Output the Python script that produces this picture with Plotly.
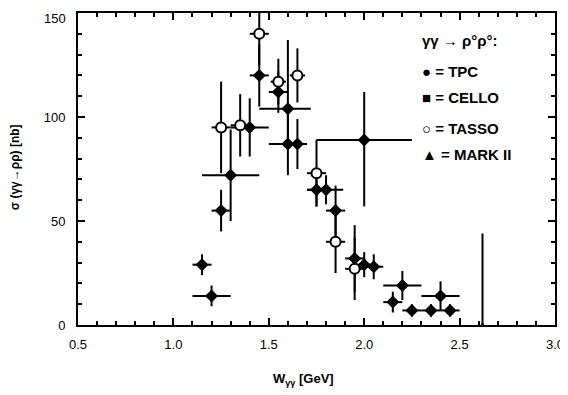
import plotly.graph_objects as go

# ---- data ----
# TPC (filled diamonds)
tpc_x = [1.15, 1.25, 1.45, 1.55, 1.65, 1.75, 1.85, 1.95, 2.00, 2.05, 2.15, 2.25, 2.35, 2.45]
tpc_y = [29, 55, 120, 112, 87, 65, 55, 32, 29, 28, 11, 7, 7, 7]
tpc_xerr = [0.05, 0.05, 0.05, 0.05, 0.05, 0.05, 0.05, 0.05, 0.05, 0.05, 0.05, 0.05, 0.05, 0.05]
tpc_yerr = [5, 10, 15, 10, 12, 8, 12, 16, 6, 6, 5, 3, 3, 3]

# CELLO (filled, wide bins)
cello_x = [1.20, 1.30, 1.40, 1.60, 1.60, 1.80, 2.00, 2.20, 2.40]
cello_y = [14, 72, 95, 104, 87, 65, 89, 19, 14]
cello_xerr_plus = [0.10, 0.15, 0.10, 0.12, 0.10, 0.09, 0.25, 0.10, 0.10]
cello_xerr_minus = [0.10, 0.15, 0.10, 0.15, 0.10, 0.10, 0.25, 0.10, 0.10]
cello_yerr_plus = [5, 22, 14, 33, 15, 7, 23, 7, 7]
cello_yerr_minus = [5, 22, 14, 20, 15, 7, 32, 7, 7]

# TASSO (open circles)
tasso_x = [1.25, 1.35, 1.45, 1.55, 1.65, 1.75, 1.85, 1.95]
tasso_y = [95, 96, 140, 117, 120, 73, 40, 27]
tasso_xerr = [0.05, 0.05, 0.05, 0.04, 0.04, 0.05, 0.05, 0.05]
tasso_yerr = [22, 15, 15, 11, 13, 16, 15, 15]

# MARK II (upper limit bar)
mark_x = [2.62]
mark_y = [0]
mark_yerr = [44]

x_ticks = [0.5, 1.0, 1.5, 2.0, 2.5, 3.0]
x_tick_text = ["0.5", "1.0", "1.5", "2.0", "2.5", "3.0"]
y_ticks = [0, 50, 100, 150]
y_tick_text = ["0", "50", "100", ""]
y_top_label = "150"

legend_lines = ["γγ → ρ°ρ°:", "● = TPC", "■ = CELLO", "○ = TASSO", "▲ = MARK II"]

FONT = "Liberation Sans"

fig = go.Figure()

eb = dict(color="black", thickness=2, width=0)

fig.add_trace(go.Scatter(
    x=cello_x, y=cello_y, mode="markers", name="CELLO",
    marker=dict(symbol="diamond", size=10, color="black"),
    error_x=dict(type="data", symmetric=False, array=cello_xerr_plus, arrayminus=cello_xerr_minus, **eb),
    error_y=dict(type="data", symmetric=False, array=cello_yerr_plus, arrayminus=cello_yerr_minus, **eb),
))
fig.add_trace(go.Scatter(
    x=tpc_x, y=tpc_y, mode="markers", name="TPC",
    marker=dict(symbol="diamond", size=10, color="black"),
    error_x=dict(type="data", array=tpc_xerr, **eb),
    error_y=dict(type="data", array=tpc_yerr, **eb),
))
fig.add_trace(go.Scatter(
    x=mark_x, y=mark_y, mode="markers", name="MARK II",
    marker=dict(symbol="triangle-up", size=5, color="black"),
    error_y=dict(type="data", symmetric=False, array=mark_yerr, arrayminus=[0], **eb),
    cliponaxis=False,
))
fig.add_trace(go.Scatter(
    x=tasso_x, y=tasso_y, mode="markers", name="TASSO",
    marker=dict(symbol="circle", size=10, color="white", line=dict(color="black", width=2)),
    error_x=dict(type="data", array=tasso_xerr, **eb),
    error_y=dict(type="data", array=tasso_yerr, **eb),
))

axis_common = dict(
    showline=True, linecolor="black", linewidth=2, mirror="allticks",
    ticks="inside", ticklen=7, tickwidth=2, tickcolor="black",
    showgrid=False, zeroline=False, automargin=False,
    ticklabeloverflow="allow",
    tickfont=dict(family=FONT, size=13, color="black"),
)

fig.update_xaxes(
    range=[0.5, 3.0], tickvals=x_ticks, ticktext=x_tick_text,
    minor=dict(ticks="inside", ticklen=4, tickwidth=1.5, tickcolor="black", dtick=0.1, tick0=0.5, showgrid=False),
    ticklabelstandoff=6,
    **axis_common,
)
fig.update_yaxes(
    range=[0, 150], tickvals=y_ticks, ticktext=y_tick_text,
    minor=dict(ticks="inside", ticklen=4, tickwidth=1.5, tickcolor="black", dtick=10, tick0=0, showgrid=False),
    ticklabelstandoff=8,
    **axis_common,
)

annotations = []
leg_y = [0.913, 0.812, 0.728, 0.631, 0.545]
for txt, yy in zip(legend_lines, leg_y):
    annotations.append(dict(
        x=0.717, y=yy, xref="paper", yref="paper", text="<b>" + txt + "</b>",
        showarrow=False, xanchor="left", yanchor="middle",
        font=dict(family=FONT, size=15, color="black"),
    ))
# top y tick label, kept inside the page edge
annotations.append(dict(
    x=-0.021, y=1.014, xref="paper", yref="paper", text=y_top_label,
    showarrow=False, xanchor="right", yanchor="top",
    font=dict(family=FONT, size=13, color="black"),
))
# axis titles
annotations.append(dict(
    x=0.473, y=-0.175, xref="paper", yref="paper",
    text="<b>W<sub>γγ</sub> [GeV]</b>", showarrow=False,
    xanchor="center", yanchor="middle",
    font=dict(family=FONT, size=13, color="black"),
))
annotations.append(dict(
    x=-0.132, y=0.506, xref="paper", yref="paper",
    text="<b>σ (γγ→ρρ) [nb]</b>", showarrow=False, textangle=-90,
    xanchor="center", yanchor="middle",
    font=dict(family=FONT, size=12, color="black"),
))

# page body adds an 8px offset, so the figure is shrunk by that amount
fig.update_layout(
    width=560, height=387,
    margin=dict(l=70, r=13, t=5, b=70),
    plot_bgcolor="white", paper_bgcolor="white",
    showlegend=False,
    annotations=annotations,
)

fig.write_html("out.html")
